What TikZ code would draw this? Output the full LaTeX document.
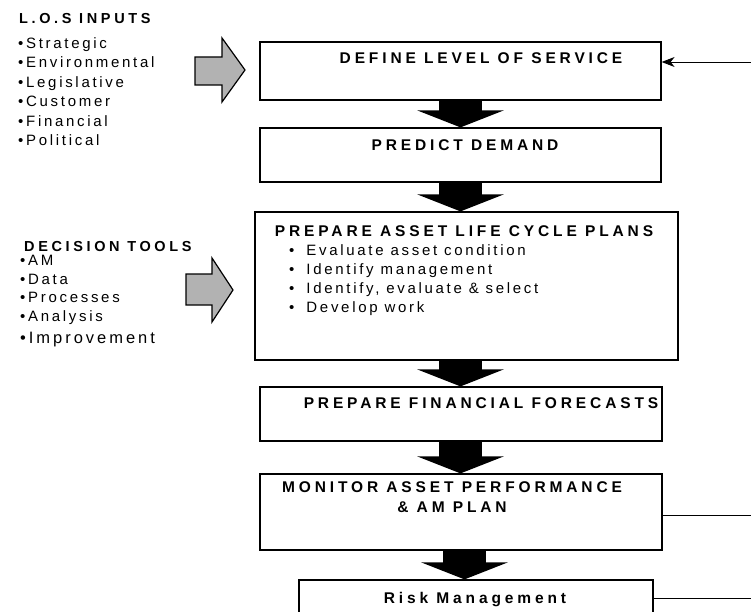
\documentclass[tikz,border=0pt]{standalone}
\usepackage{fontspec}
\setmainfont{Liberation Sans}[LetterSpace=18]
\newfontfamily\headfont{Liberation Sans}[LetterSpace=25]
\usetikzlibrary{arrows.meta}

\begin{document}
\begin{tikzpicture}[x=1pt, y=-1pt,
        box/.style={draw, line width=1.2pt, inner sep=0pt},
        head/.style={font=\headfont\bfseries\fontsize{15.5}{20}\selectfont, inner sep=0pt, align=center},
        item/.style={font=\fontsize{15}{19.5}\selectfont, inner sep=0pt, align=left, anchor=north west},
        flow/.style={line width=43pt, -{Triangle[length=17pt,width=86pt]}},
        inarrow/.style={draw, line width=1.2pt, fill=gray!60, line join=miter},
        feed/.style={line width=0.9pt}]
    \clip (0,0) rectangle (751,612);

    % inputs on the left
    \node[head, anchor=west, font=\headfont\bfseries\fontsize{14.5}{18}\selectfont] (lostitle) at (19,19) {L.O.S INPUTS};
    \node[item] (los) at (18,37) {•Strategic\\•Environmental\\•Legislative\\•Customer\\•Financial\\•Political};
    \node[head, anchor=west, font=\headfont\bfseries\fontsize{14.5}{18}\selectfont] (toolstitle) at (24,247) {DECISION TOOLS};
    \node[item, font=\fontsize{15}{18.7}\selectfont] (tools) at (20,255)
        {•AM\\•Data\\•Processes\\•Analysis\\[3pt]{\fontsize{16.5}{20}\selectfont •Improvement}};

    % big grey input arrows
    \draw[inarrow] (195,57) -- (222,57) -- (222,38) -- (245,70) -- (222,102) -- (222,85) -- (195,85) -- cycle;
    \draw[inarrow] (186,274) -- (212,274) -- (212,258) -- (233,290) -- (212,322) -- (212,305) -- (186,305) -- cycle;

    % process boxes
    \node[box, minimum width=401, minimum height=58] (los-box) at (460.5,71) {};
    \node[box, minimum width=401, minimum height=54] (demand) at (460.5,155) {};
    \node[box, minimum width=423, minimum height=148] (lifecycle) at (466.5,286) {};
    \node[box, minimum width=402, minimum height=54] (finance) at (461,414) {};
    \node[box, minimum width=402, minimum height=76] (monitor) at (461,512) {};
    \node[box, minimum width=354, minimum height=40] (risk) at (476,600) {};

    \node[head] (t-los) at (481,58) {DEFINE LEVEL OF SERVICE};
    \node[head] (t-demand) at (465,145) {PREDICT DEMAND};
    \node[head] (t-lifecycle) at (464,231) {PREPARE ASSET LIFE CYCLE PLANS};
    \node[item, font=\fontsize{15}{19}\selectfont] (steps) at (289,244)
        {•\hspace{12pt}Evaluate asset condition\\•\hspace{12pt}Identify management\\•\hspace{12pt}Identify, evaluate \& select\\•\hspace{12pt}Develop work};
    \node[head] (t-finance) at (481,403) {PREPARE FINANCIAL FORECASTS};
    \node[head] (t-monitor) at (452,497) {MONITOR ASSET PERFORMANCE\\\& AM PLAN};
    \node[head] (t-risk) at (475,600) {Risk Management};

    % fat arrows down the chain
    \coordinate (spine) at (460.5,0);
    \draw[flow] (los-box.south -| spine) -- (demand.north -| spine);
    \draw[flow] (demand.south -| spine) -- (lifecycle.north -| spine);
    \draw[flow] (lifecycle.south -| spine) -- (finance.north -| spine);
    \draw[flow] (finance.south -| spine) -- (monitor.north -| spine);
    \draw[flow] ([xshift=4pt]monitor.south -| spine) -- ([xshift=4pt]risk.north -| spine);

    % feedback lines on the right
    \coordinate (fb-in) at (751,62);
    \coordinate (fb-mon) at (751,515);
    \coordinate (fb-risk) at (751,598);
    \draw[feed, -{Stealth[length=13pt,width=10pt,inset=4pt]}] (fb-in) -- (fb-in -| los-box.east);
    \draw[feed] (fb-mon -| monitor.east) -- (fb-mon);
    \draw[feed] (fb-risk -| risk.east) -- (fb-risk);
\end{tikzpicture}
\end{document}
